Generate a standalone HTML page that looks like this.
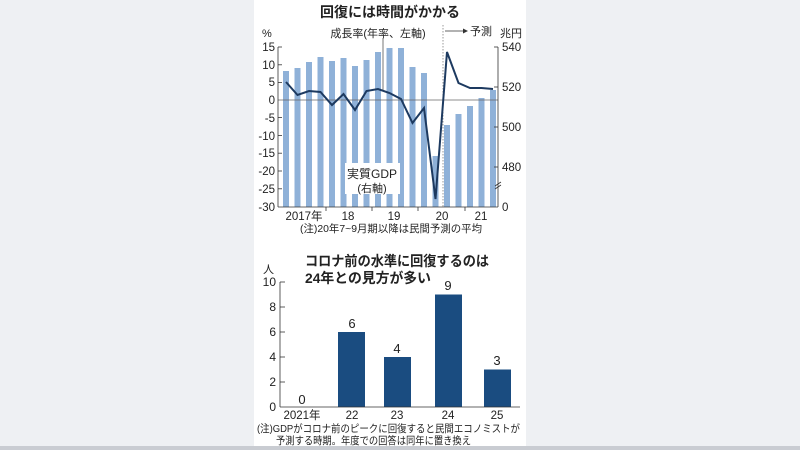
<!DOCTYPE html>
<html><head><meta charset="utf-8"><style>
body{margin:0;width:800px;height:450px;background:#eef0f3;overflow:hidden}
svg{display:block}
text{font-family:"Liberation Sans","Noto Sans CJK JP",sans-serif;fill:#222}
</style></head><body>
<svg width="800" height="450" viewBox="0 0 800 450">
<rect x="254" y="0" width="272" height="447" fill="#fff"/>
<rect x="0" y="446" width="800" height="4" fill="#c9ccd2"/>
<text x="390" y="17" font-size="14" font-weight="bold" text-anchor="middle">回復には時間がかかる</text>
<text x="262" y="37" font-size="11">%</text>
<text x="500" y="37" font-size="11">兆円</text>
<text x="378" y="37" font-size="11" text-anchor="middle">成長率(年率、左軸)</text>
<line x1="443" y1="25" x2="443" y2="207" stroke="#999" stroke-dasharray="1.5,1.5"/>
<line x1="445" y1="31" x2="463" y2="31" stroke="#333" stroke-width="0.8"/>
<polygon points="463,28.5 468,31 463,33.5" fill="#333"/>
<text x="470" y="35" font-size="11">予測</text>
<g fill="#8fb1d8">
<rect x="283" y="71" width="6" height="136"/><rect x="294.5" y="68" width="6" height="139"/><rect x="306" y="62" width="6" height="145"/><rect x="317.5" y="57" width="6" height="150"/><rect x="329" y="61" width="6" height="146"/><rect x="340.5" y="58" width="6" height="149"/><rect x="352" y="66" width="6" height="141"/><rect x="363.5" y="60" width="6" height="147"/><rect x="375" y="52" width="6" height="155"/><rect x="386.5" y="48" width="6" height="159"/><rect x="398" y="48" width="6" height="159"/><rect x="409.5" y="67" width="6" height="140"/><rect x="421" y="73" width="6" height="134"/><rect x="432.5" y="156" width="6" height="51"/><rect x="444" y="125" width="6" height="82"/><rect x="455.5" y="114" width="6" height="93"/><rect x="467" y="106" width="6" height="101"/><rect x="478.5" y="98" width="6" height="109"/><rect x="490" y="90" width="6" height="117"/>
</g>
<rect x="345" y="163" width="55" height="31" fill="#fff"/>
<text x="372" y="178" font-size="12" text-anchor="middle">実質GDP</text>
<text x="372" y="192" font-size="11" text-anchor="middle">(右軸)</text>
<line x1="383" y1="38" x2="383" y2="90" stroke="#555" stroke-width="0.8"/>
<line x1="278" y1="100" x2="498" y2="100" stroke="#666" stroke-width="0.8"/>
<polyline fill="none" stroke="#1d3a60" stroke-width="2" points="286,82 297.5,95 309,91 320.5,92 332,105 343.5,94 355,110 366.5,91 378,89 389.5,93 401,99 412.5,123 424,108 435.5,199 447,52 458.5,83 470,88 481.5,88 493,89"/>
<g stroke="#333" stroke-width="0.8">
<line x1="278" y1="47" x2="278" y2="207"/><line x1="498" y1="47" x2="498" y2="207"/><line x1="278" y1="207" x2="498" y2="207"/>
<line x1="278" y1="47" x2="282" y2="47"/><line x1="278" y1="64.8" x2="282" y2="64.8"/><line x1="278" y1="82.6" x2="282" y2="82.6"/><line x1="278" y1="117.6" x2="282" y2="117.6"/><line x1="278" y1="135.4" x2="282" y2="135.4"/><line x1="278" y1="153.2" x2="282" y2="153.2"/><line x1="278" y1="171" x2="282" y2="171"/><line x1="278" y1="188.8" x2="282" y2="188.8"/>
<line x1="494" y1="47" x2="498" y2="47"/><line x1="494" y1="87" x2="498" y2="87"/><line x1="494" y1="127" x2="498" y2="127"/><line x1="494" y1="167" x2="498" y2="167"/>
<line x1="495" y1="186" x2="501" y2="182"/><line x1="495" y1="189" x2="501" y2="185"/>
<line x1="326" y1="207" x2="326" y2="211"/><line x1="372" y1="207" x2="372" y2="211"/><line x1="418" y1="207" x2="418" y2="211"/><line x1="465" y1="207" x2="465" y2="211"/>
</g>
<g font-size="11.5" text-anchor="end">
<text x="275" y="51">15</text><text x="275" y="69">10</text><text x="275" y="86">5</text><text x="275" y="104">0</text><text x="275" y="122">-5</text><text x="275" y="140">-10</text><text x="275" y="157">-15</text><text x="275" y="175">-20</text><text x="275" y="193">-25</text><text x="275" y="211">-30</text>
</g>
<g font-size="11.5">
<text x="502" y="51">540</text><text x="502" y="91">520</text><text x="502" y="131">500</text><text x="502" y="171">480</text><text x="502" y="211">0</text>
</g>
<g font-size="11.5" text-anchor="middle">
<text x="304" y="220">2017年</text><text x="348" y="220">18</text><text x="394" y="220">19</text><text x="442" y="220">20</text><text x="481" y="220">21</text>
</g>
<text x="300" y="232" font-size="10.5" textLength="182" lengthAdjust="spacingAndGlyphs">(注)20年7~9月期以降は民間予測の平均</text>
<text x="305" y="266" font-size="14" font-weight="bold" textLength="184" lengthAdjust="spacingAndGlyphs">コロナ前の水準に回復するのは</text>
<text x="305" y="283" font-size="14" font-weight="bold" textLength="126" lengthAdjust="spacingAndGlyphs">24年との見方が多い</text>
<text x="263" y="273" font-size="11">人</text>
<g fill="#1a4c80">
<rect x="338" y="332" width="27" height="75"/><rect x="384" y="357" width="27" height="50"/><rect x="435" y="294.5" width="27" height="112.5"/><rect x="484" y="369.5" width="27" height="37.5"/>
</g>
<g stroke="#333" stroke-width="0.8">
<line x1="280" y1="282" x2="280" y2="407"/><line x1="280" y1="407" x2="520" y2="407"/>
<line x1="280" y1="282" x2="285" y2="282"/><line x1="280" y1="307" x2="285" y2="307"/><line x1="280" y1="332" x2="285" y2="332"/><line x1="280" y1="357" x2="285" y2="357"/><line x1="280" y1="382" x2="285" y2="382"/>
</g>
<g font-size="12" text-anchor="end">
<text x="276" y="286">10</text><text x="276" y="311">8</text><text x="276" y="336">6</text><text x="276" y="361">4</text><text x="276" y="386">2</text><text x="276" y="411">0</text>
</g>
<g font-size="13" text-anchor="middle">
<text x="302" y="404">0</text><text x="352" y="328">6</text><text x="397" y="353">4</text><text x="448" y="290">9</text><text x="497" y="365">3</text>
</g>
<g font-size="11.5" text-anchor="middle">
<text x="302" y="419">2021年</text><text x="352" y="419">22</text><text x="397" y="419">23</text><text x="448" y="419">24</text><text x="497" y="419">25</text>
</g>
<text x="257" y="432" font-size="10.5" textLength="263" lengthAdjust="spacingAndGlyphs">(注)GDPがコロナ前のピークに回復すると民間エコノミストが</text>
<text x="276" y="444" font-size="10.5" textLength="195" lengthAdjust="spacingAndGlyphs">予測する時期。年度での回答は同年に置き換え</text>
</svg>
</body></html>
